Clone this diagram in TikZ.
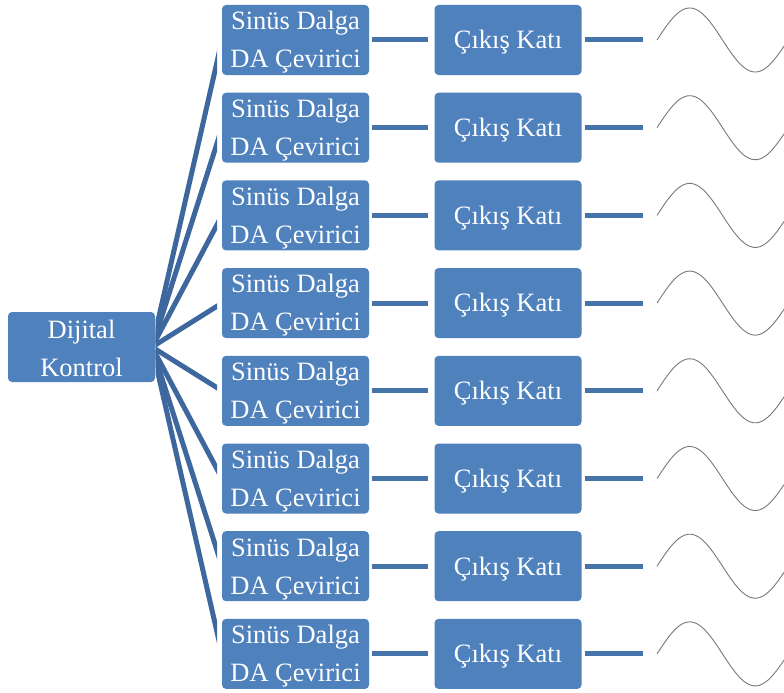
\documentclass[tikz,border=0pt]{standalone}
\usepackage{fontspec}
\setmainfont{Liberation Serif}
\definecolor{boxblue}{RGB}{79,129,189}
\definecolor{fanblue}{RGB}{62,103,158}
\definecolor{linkblue}{RGB}{70,116,170}
\definecolor{wavegray}{RGB}{120,120,120}
\tikzset{
  block/.style={fill=boxblue, rounded corners=4pt, minimum width=147pt,
    minimum height=70pt, inner sep=0pt},
  btext/.style={text=white, align=center, inner sep=0pt, yshift=-2.5pt,
    font=\fontsize{26.5}{38}\selectfont},
  link/.style={draw=linkblue, line width=5pt},
  fan/.style={draw=fanblue, line width=5pt},
  wave/.style={draw=wavegray, line width=0.9pt}
}
\begin{document}
\begin{tikzpicture}[x=1pt,y=-1pt]
  \useasboundingbox (0,0) rectangle (784,693);
  % controller
  \node[block, label={[btext, yshift=1.5pt]center:Dijital\\Kontrol}] (dk) at (81.5,347) {};
  \coordinate (src) at (152,347);
  \foreach \i in {1,...,8} {
    \pgfmathsetmacro{\yy}{40+(\i-1)*87.7}
    \node[block, label={[btext]center:Sinüs Dalga\\DA Çevirici}] (da\i) at (295.5,\yy) {};
    \node[block, label={[btext]center:Çıkış Katı}] (ck\i) at (508,\yy) {};
    \coordinate (tip\i) at (222,\yy);
    \coordinate (end\i) at (643,\yy);
    % fan line from the controller, cut square at both boxes
    \begin{scope}
      \clip (155.5,0) rectangle (217,693);
      \draw[fan] (src) -- (tip\i);
    \end{scope}
    \draw[link] ([xshift=3pt]da\i.east) -- ([xshift=-6pt]ck\i.west);
    \draw[link] ([xshift=3pt]ck\i.east) -- (end\i);
    % output waveform
    \draw[wave] plot[domain=0:127, samples=80, smooth] ({657+\x}, {\yy-32*sin(\x/131*360)});
  }
\end{tikzpicture}
\end{document}
